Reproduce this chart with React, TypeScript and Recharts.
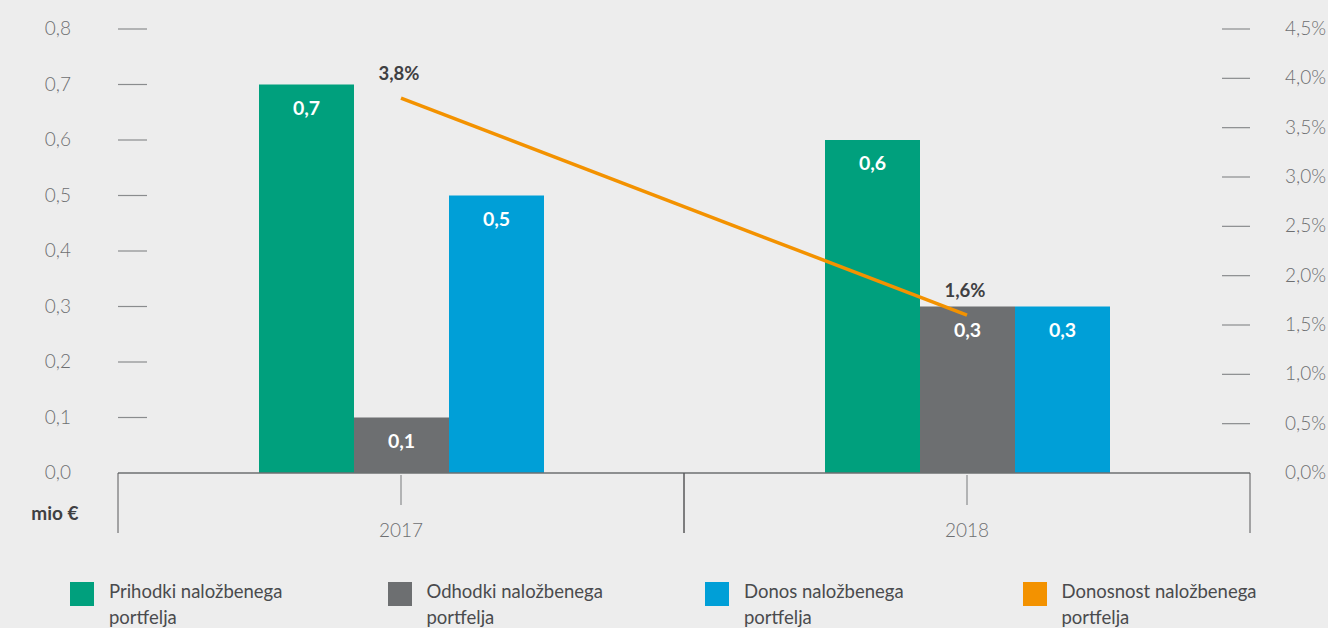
import { Bar, ComposedChart, Label, LabelList, Legend, Line, XAxis, YAxis } from "recharts";

const years = ["2017", "2018"];
const prihodki = [0.7, 0.6];
const odhodki = [0.1, 0.3];
const donos = [0.5, 0.3];
const donosnost = [3.8, 1.6];
const leftTicks = [0, 0.1, 0.2, 0.3, 0.4, 0.5, 0.6, 0.7, 0.8];
const rightTicks = [0, 0.5, 1, 1.5, 2, 2.5, 3, 3.5, 4, 4.5];

const series = [
  { key: "prihodki", name: "Prihodki naložbenega portfelja", color: "#00a07d" },
  { key: "odhodki", name: "Odhodki naložbenega portfelja", color: "#6d6f71" },
  { key: "donos", name: "Donos naložbenega portfelja", color: "#009fd7" },
  { key: "donosnost", name: "Donosnost naložbenega portfelja", color: "#f39200" },
];

const data = years.map((year, i) => ({
  year,
  prihodki: prihodki[i],
  odhodki: odhodki[i],
  donos: donos[i],
  donosnost: donosnost[i],
}));

const W = 1328;
const H = 628;
const PLOT_LEFT = 118;
const PLOT_RIGHT = 1250;
const PLOT_BOTTOM = 473;
const FONT = "Lato, 'Open Sans', sans-serif";
const TICK_COLOR = "#6d6f71";

const fmt = (v: number, d: number) => v.toFixed(d).replace(".", ",");

function LeftTick({ y, payload }: any) {
  return (
    <g>
      <text x={71} y={y} dy={6} textAnchor="end" fontSize={19} fontWeight={300} fill={TICK_COLOR} fontFamily={FONT}>
        {fmt(payload.value, 1)}
      </text>
      {payload.value !== 0 && <line x1={PLOT_LEFT} x2={PLOT_LEFT + 29} y1={y} y2={y} stroke="#8a8c8e" strokeWidth={1.2} />}
    </g>
  );
}

function RightTick({ y, payload }: any) {
  return (
    <g>
      <text x={1326} y={y} dy={6} textAnchor="end" fontSize={19} fontWeight={300} fill={TICK_COLOR} fontFamily={FONT}>
        {fmt(payload.value, 1) + "%"}
      </text>
      {payload.value !== 0 && <line x1={PLOT_RIGHT - 28} x2={PLOT_RIGHT} y1={y} y2={y} stroke="#8a8c8e" strokeWidth={1.2} />}
    </g>
  );
}

function YearTick({ x, payload }: any) {
  const half = (PLOT_RIGHT - PLOT_LEFT) / years.length / 2;
  return (
    <g>
      <line x1={x} x2={x} y1={PLOT_BOTTOM + 2} y2={PLOT_BOTTOM + 32} stroke="#8a8c8e" strokeWidth={1.2} />
      <line x1={x - half} x2={x - half} y1={PLOT_BOTTOM} y2={PLOT_BOTTOM + 60} stroke="#58595b" strokeWidth={1} />
      <line x1={x + half} x2={x + half} y1={PLOT_BOTTOM} y2={PLOT_BOTTOM + 60} stroke="#58595b" strokeWidth={1} />
      <text x={x} y={PLOT_BOTTOM + 64} textAnchor="middle" fontSize={19} fontWeight={300} fill={TICK_COLOR} fontFamily={FONT}>
        {payload.value}
      </text>
    </g>
  );
}

function BarValue({ x, y, width, value }: any) {
  return (
    <text x={x + width / 2} y={y + 30} textAnchor="middle" fontSize={19.5} fontWeight={700} fill="#ffffff" fontFamily={FONT}>
      {fmt(value, 1)}
    </text>
  );
}

function LineValue({ x, y, value }: any) {
  return (
    <text x={x - 2} y={y - 18} textAnchor="middle" fontSize={18.5} fontWeight={700} fill="#3f4042" fontFamily={FONT}>
      {fmt(value, 1) + "%"}
    </text>
  );
}

function LegendContent() {
  return (
    <div style={{ display: "flex", width: W, fontFamily: FONT }}>
      {series.map((s) => (
        <div key={s.key} style={{ width: 317.5, display: "flex", alignItems: "flex-start", paddingLeft: 70, boxSizing: "border-box" }}>
          <div style={{ width: 24, height: 24, background: s.color, marginTop: 4, flexShrink: 0 }} />
          <div style={{ marginLeft: 15, width: 200, fontSize: 18.5, lineHeight: "26px", color: "#4a4b4d" }}>{s.name}</div>
        </div>
      ))}
    </div>
  );
}

export default function App() {
  return (
    <div style={{ position: "absolute", left: 0, top: 0, width: W, height: H, background: "#ededed" }}>
      <ComposedChart
        width={W}
        height={H}
        data={data}
        margin={{ top: 29, right: 0, left: 0, bottom: 125 }}
        barSize={95}
        barGap={0}
      >
        <XAxis
          dataKey="year"
          height={30}
          tickLine={false}
          axisLine={{ stroke: "#6d6f71", strokeWidth: 1.5 }}
          tick={<YearTick />}
          interval={0}
        />
        <YAxis
          yAxisId="left"
          width={PLOT_LEFT}
          domain={[0, 0.8]}
          ticks={leftTicks}
          axisLine={false}
          tickLine={false}
          tick={<LeftTick />}
          interval={0}
        >
          <Label
            content={() => (
              <text x={55} y={520} textAnchor="middle" fontSize={19} fontWeight={700} fill="#3f4042" fontFamily={FONT}>
                mio €
              </text>
            )}
          />
        </YAxis>
        <YAxis
          yAxisId="right"
          orientation="right"
          width={W - PLOT_RIGHT}
          domain={[0, 4.5]}
          ticks={rightTicks}
          axisLine={false}
          tickLine={false}
          tick={<RightTick />}
          interval={0}
        />
        <Legend
          verticalAlign="bottom"
          content={<LegendContent />}
          wrapperStyle={{ top: 578, left: 0, bottom: "auto", height: 0, width: W }}
        />
        {series.slice(0, 3).map((s) => (
          <Bar key={s.key} yAxisId="left" dataKey={s.key} name={s.name} fill={s.color} isAnimationActive={false}>
            <LabelList dataKey={s.key} content={<BarValue />} />
          </Bar>
        ))}
        <Line
          yAxisId="right"
          dataKey="donosnost"
          name={series[3].name}
          stroke={series[3].color}
          strokeWidth={3.5}
          dot={false}
          activeDot={false}
          type="linear"
          isAnimationActive={false}
        >
          <LabelList dataKey="donosnost" content={<LineValue />} />
        </Line>
      </ComposedChart>
    </div>
  );
}
